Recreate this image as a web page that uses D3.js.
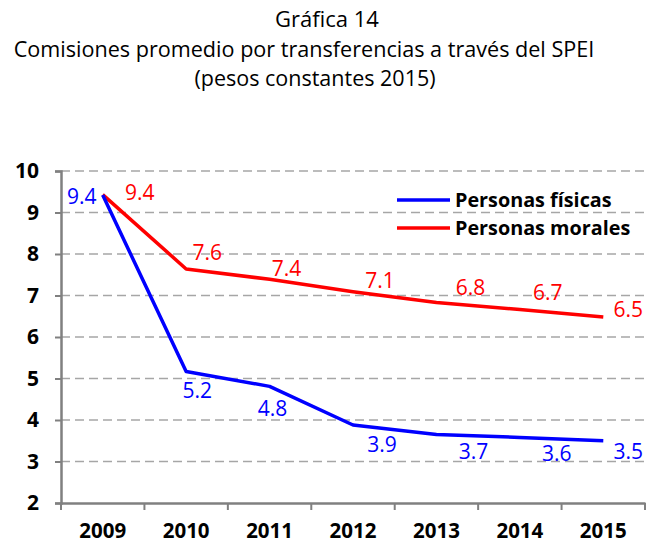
<!DOCTYPE html>
<html>
<head>
<meta charset="utf-8">
<script src="https://cdn.jsdelivr.net/npm/d3@7"></script>
<style>
  body { margin: 0; background: #fff; }
  svg text { font-family: "Open Sans", "Noto Sans", sans-serif; }
</style>
</head>
<body>
<div id="chart"></div>
<script>
// data
const years = ["2009", "2010", "2011", "2012", "2013", "2014", "2015"];
const fisicas = [9.42, 5.17, 4.81, 3.88, 3.65, 3.58, 3.50];
const morales = [9.43, 7.64, 7.39, 7.09, 6.83, 6.66, 6.48];
const fisicasLabels = ["9.4", "5.2", "4.8", "3.9", "3.7", "3.6", "3.5"];
const moralesLabels = ["9.4", "7.6", "7.4", "7.1", "6.8", "6.7", "6.5"];
const yTicks = [2, 3, 4, 5, 6, 7, 8, 9, 10];

// label offsets (px) relative to each point, as placed in the original
const fisicasOff = [[-21, 2], [11, 19], [3, 22], [29, 20], [37, 17], [37, 16], [25, 11]];
const moralesOff = [[37, -2], [21, -16], [17, -11], [27, -11], [34, -15], [28, -17], [25, -7]];

const W = 655, H = 544;
const margin = { top: 171, right: 10, bottom: 41, left: 61 };
const width = 645 - margin.left, height = 503 - margin.top;

const svg = d3.select("#chart").append("svg")
    .attr("width", W)
    .attr("height", H);

// titles
svg.append("text").attr("x", 327).attr("y", 27).attr("text-anchor", "middle")
    .style("font-size", "22px").text("Gráfica 14");
svg.append("text").attr("x", 304).attr("y", 57).attr("text-anchor", "middle")
    .style("font-size", "21.6px").text("Comisiones promedio por transferencias a través del SPEI");
svg.append("text").attr("x", 315).attr("y", 86).attr("text-anchor", "middle")
    .style("font-size", "21.5px").text("(pesos constantes 2015)");

const g = svg.append("g")
    .attr("transform", "translate(" + margin.left + "," + margin.top + ")");

const x = d3.scaleBand().domain(years).range([0, width]);
const y = d3.scaleLinear().domain([2, 10]).range([height, 0]);

// gridlines
g.selectAll(".grid").data(yTicks.filter(d => d > 2))
    .enter().append("line").attr("class", "grid")
    .attr("x1", 0).attr("x2", width)
    .attr("y1", d => y(d)).attr("y2", d => y(d))
    .attr("stroke", "#a6a6a6").attr("stroke-width", 1.5)
    .attr("stroke-dasharray", "9,5");

// axes
const yAxis = d3.axisLeft(y).tickValues(yTicks).tickSize(6).tickPadding(16).tickFormat(d3.format("d"));
const yG = g.append("g").call(yAxis);
yG.select(".domain").attr("stroke", "#808080").attr("stroke-width", 2.5);
yG.selectAll(".tick line").attr("stroke", "#808080").attr("stroke-width", 2);
yG.selectAll("text").style("font-size", "21px").style("font-weight", "bold").attr("fill", "#000");

const xAxis = d3.axisBottom(x).tickSize(0).tickPadding(20);
const xG = g.append("g").attr("transform", "translate(0," + height + ")").call(xAxis);
xG.select(".domain").attr("stroke", "#808080").attr("stroke-width", 2.5);
xG.selectAll("text").style("font-size", "20.5px").style("font-weight", "bold").attr("fill", "#000");
// category boundary ticks
xG.selectAll(".bound").data(years.concat(["end"]))
    .enter().append("line").attr("class", "bound")
    .attr("x1", (d, i) => i * x.step()).attr("x2", (d, i) => i * x.step())
    .attr("y1", 0).attr("y2", 7)
    .attr("stroke", "#808080").attr("stroke-width", 2);

// lines
const line = d3.line()
    .x((d, i) => x(years[i]) + x.bandwidth() / 2)
    .y(d => y(d));

const series = [
    { values: morales, labels: moralesLabels, off: moralesOff, color: "#ff0000" },
    { values: fisicas, labels: fisicasLabels, off: fisicasOff, color: "#0000ff" }
];

series.forEach(s => {
    g.append("path").datum(s.values)
        .attr("d", line)
        .attr("fill", "none")
        .attr("stroke", s.color)
        .attr("stroke-width", 3.5)
        .attr("stroke-linejoin", "round");

    g.selectAll(null).data(s.values)
        .enter().append("text")
        .attr("x", (d, i) => x(years[i]) + x.bandwidth() / 2 + s.off[i][0])
        .attr("y", (d, i) => y(d) + s.off[i][1])
        .attr("text-anchor", "middle")
        .attr("dy", "0.35em")
        .attr("fill", s.color)
        .style("font-size", "21px")
        .text((d, i) => s.labels[i]);
});

// legend
const legend = [
    { name: "Personas físicas", color: "#0000ff" },
    { name: "Personas morales", color: "#ff0000" }
];
const lg = svg.append("g").attr("transform", "translate(397,200)");
legend.forEach((d, i) => {
    lg.append("line").attr("x1", 0).attr("x2", 53)
        .attr("y1", i * 28).attr("y2", i * 28)
        .attr("stroke", d.color).attr("stroke-width", 3.5);
    lg.append("text").attr("x", 58).attr("y", i * 28).attr("dy", "0.35em")
        .style("font-size", "19.8px").style("font-weight", "bold")
        .text(d.name);
});
</script>
</body>
</html>
